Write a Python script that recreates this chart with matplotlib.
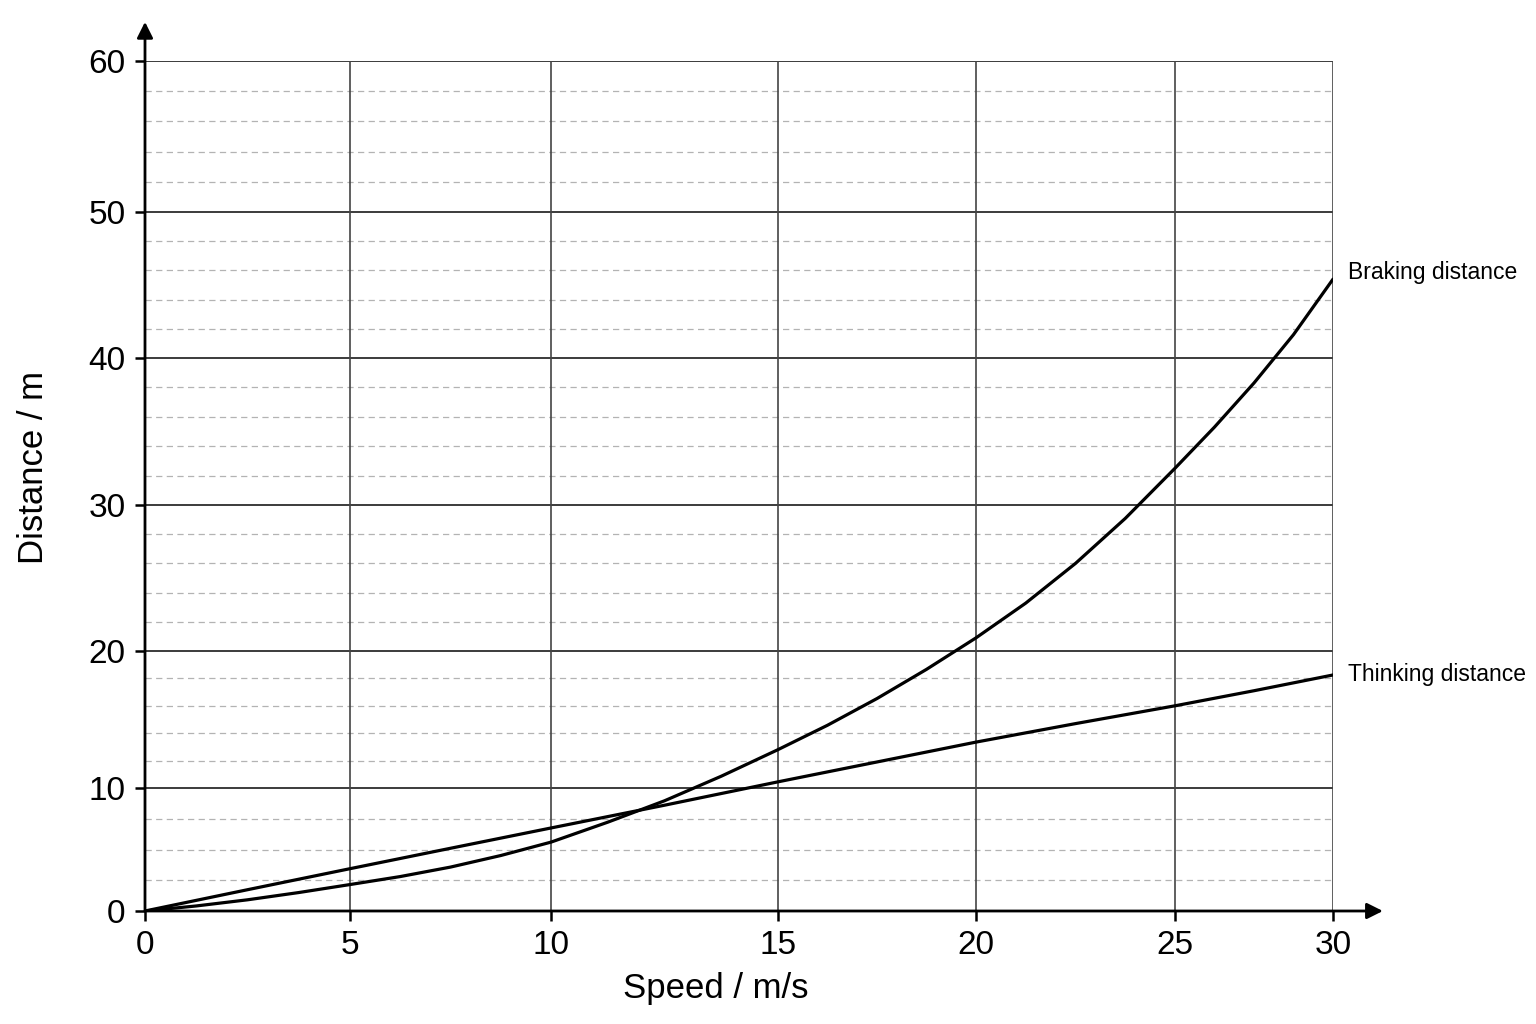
import matplotlib
matplotlib.use("Agg")
import numpy as np
import matplotlib.pyplot as plt
from matplotlib.patches import FancyArrowPatch

plt.rcParams['font.family'] = ['Liberation Sans', 'DejaVu Sans']

# ---- data ----
speed_thinking = [0, 2.5, 5, 7.5, 10, 12.5, 15, 17.5, 20, 22.5, 25, 27.5, 30]
thinking = [0, 1.73, 3.44, 5.1, 6.75, 8.6, 10.45, 11.9, 13.35, 14.7, 16.0, 17.1, 18.25]
speed_braking = [0, 1.25, 2.5, 3.75, 5, 6.25, 7.5, 8.75, 10, 11.25, 12.5, 13.75,
                 15, 16.25, 17.5, 18.75, 20, 21.25, 22.5, 23.75, 25, 26.25, 27.5,
                 28.75, 30]
braking = [0, 0.41, 0.91, 1.5, 2.15, 2.8, 3.57, 4.51, 5.6, 7.22, 8.96, 10.86,
           12.8, 14.58, 16.53, 18.66, 20.9, 23.28, 26.0, 29.08, 32.5, 35.3, 38.3,
           41.6, 45.4]
series_labels = ["Thinking distance", "Braking distance"]
x_ticks = [0, 5, 10, 15, 20, 25, 30]
y_ticks = [0, 10, 20, 30, 40, 50, 60]
y_minor = [2.5, 5, 7.5] + [v for v in range(12, 60, 2) if v % 10 != 0]
x_label = "Speed / m/s"
y_label = "Distance / m"

# the reference grid is drawn with slightly uneven spacing; reproduce it
# with piecewise-linear axis scales (pixel positions of the major ticks)
x_tick_px = [145, 350, 551, 778, 976, 1175, 1333]
y_tick_px = [911, 788, 651, 505, 358, 212, 61]
_xs = np.array(x_tick_px, float) - x_tick_px[0]
_ys = y_tick_px[0] - np.array(y_tick_px, float)


def fx(v):
    return np.interp(v, x_ticks, _xs)


def ix(v):
    return np.interp(v, _xs, x_ticks)


def fy(v):
    return np.interp(v, y_ticks, _ys)


def iy(v):
    return np.interp(v, _ys, y_ticks)


fig = plt.figure(figsize=(15.36, 10.24), dpi=100)
fig.patch.set_facecolor("white")
ax = fig.add_axes([145/1536, 1-911/1024, (1333-145)/1536, (911-61)/1024])
ax.set_xscale("function", functions=(fx, ix))
ax.set_yscale("function", functions=(fy, iy))
ax.set_xlim(0, 30)
ax.set_ylim(0, 60)
ax.set_xticks(x_ticks)
ax.set_yticks(y_ticks)
ax.set_xticks([], minor=True)
ax.set_yticks([], minor=True)
ax.set_xticklabels([str(t) for t in x_ticks])
ax.set_yticklabels([str(t) for t in y_ticks])

# grid
for yv in y_minor:
    ax.axhline(yv, color="#b3b3b3", lw=0.9, ls=(0, (5, 3.5)), zorder=1)
for yv in y_ticks[1:]:
    ax.axhline(yv, color="#1a1a1a", lw=1.2, zorder=2)
for xv in x_ticks[1:]:
    ax.axvline(xv, color="#444444", lw=1.2, zorder=2)

for s in ax.spines.values():
    s.set_visible(False)

# curves
ax.plot(speed_braking, braking, color="black", lw=2.3, zorder=5,
        solid_capstyle="round", solid_joinstyle="round")
ax.plot(speed_thinking, thinking, color="black", lw=2.3, zorder=5,
        solid_capstyle="round", solid_joinstyle="round")

ax.annotate(series_labels[1], xy=(speed_braking[-1], braking[-1]),
            xytext=(11, 4.5), textcoords="offset points", fontsize=16.5,
            va="center", ha="left")
ax.annotate(series_labels[0], xy=(speed_thinking[-1], thinking[-1]),
            xytext=(11, 0.5), textcoords="offset points", fontsize=16.5,
            va="center", ha="left")

# ticks
ax.tick_params(axis="both", which="major", direction="out", length=7, width=1.8,
               labelsize=24, colors="black")
ax.tick_params(axis="x", pad=7)
ax.tick_params(axis="y", pad=7)

ax.set_xlabel(x_label, fontsize=25)
ax.set_ylabel(y_label, fontsize=25)
ax.xaxis.set_label_coords((716 - 145) / 1188, (911 - 972) / 850)
ax.yaxis.set_label_coords((50 - 145) / 1188, (911 - 468) / 850)

# axis lines with arrowheads
ax.add_patch(FancyArrowPatch((0, 0), (1.042, 0), transform=ax.transAxes,
                             arrowstyle="-|>", mutation_scale=24, lw=2.0,
                             color="black", clip_on=False, zorder=6,
                             shrinkA=0, shrinkB=0))
ax.add_patch(FancyArrowPatch((0, 0), (0, 1.046), transform=ax.transAxes,
                             arrowstyle="-|>", mutation_scale=24, lw=2.0,
                             color="black", clip_on=False, zorder=6,
                             shrinkA=0, shrinkB=0))

fig.savefig("out.png", dpi=100, facecolor="white")
